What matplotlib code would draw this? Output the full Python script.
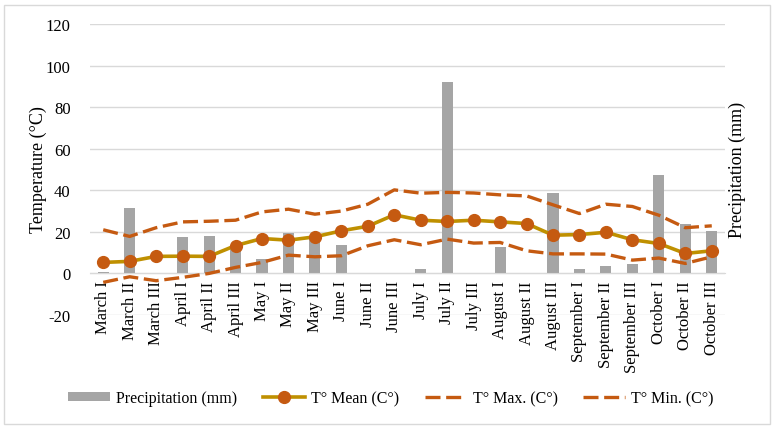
import matplotlib
matplotlib.use("Agg")
import matplotlib.pyplot as plt
from matplotlib.patches import Rectangle
import numpy as np

categories = ["March I", "March II", "March III", "April I", "April II", "April III",
              "May I", "May II", "May III", "June I", "June II", "June III",
              "July I", "July II", "July III", "August I", "August II", "August III",
              "September I", "September II", "September III", "October I", "October II", "October III"]
precip = [0.5, 31.5, 0, 17.3, 18.1, 12.5, 6.9, 19.4, 16.5, 13.9, 0, 0,
          1.9, 92, 0, 12.5, 0, 38.6, 1.9, 3.8, 4.5, 47.5, 23.8, 20.5]
t_mean = [5.3, 5.8, 8.2, 8.3, 8.2, 13.4, 16.8, 16.0, 17.6, 20.5, 22.7, 28.2,
          25.6, 25.0, 25.6, 24.8, 24.0, 18.4, 18.7, 19.8, 16.2, 14.4, 9.6, 10.9]
t_max = [21.0, 17.8, 22.0, 24.8, 25.1, 25.6, 29.6, 30.9, 28.5, 30.0, 33.3, 40.2,
         38.6, 39.0, 38.7, 37.8, 37.3, 33.0, 28.8, 33.3, 32.2, 28.0, 22.0, 22.9]
t_min = [-4.3, -1.6, -3.5, -1.9, 0.0, 2.9, 5.3, 8.8, 8.0, 8.5, 13.3, 16.2,
         13.8, 16.5, 14.6, 14.9, 10.9, 9.4, 9.4, 9.3, 6.4, 7.4, 4.8, 8.0]
yticks = [-20, 0, 20, 40, 60, 80, 100, 120]

plt.rcParams['font.family'] = ['Liberation Serif', 'DejaVu Serif']
FS = 12

fig = plt.figure(figsize=(7.78, 4.31), dpi=100)
ax = fig.add_axes([90/778, 1-316/431, (725-90)/778, (316-25)/431])

x = np.arange(len(categories))
orange = '#C55A11'
h_bar = ax.bar(x, precip, width=0.42, color='#A5A5A5', label='Precipitation (mm)', zorder=2)
h_mean, = ax.plot(x, t_mean, color='#BF9000', lw=2.6, marker='o', ms=8.5, mfc=orange, mec=orange,
                  label='T° Mean (C°)', zorder=4)
h_max, = ax.plot(x, t_max, color=orange, lw=2.4, dashes=(4.5, 1.7), label='T° Max. (C°)', zorder=3)
h_min, = ax.plot(x, t_min, color=orange, lw=2.4, dashes=(4.5, 1.7), label='T° Min. (C°)', zorder=3)

ax.set_xlim(-0.5, len(categories) - 0.5)
ax.set_ylim(-20, 120)
ax.set_yticks(yticks)
ax.set_yticklabels([str(v) for v in yticks], fontsize=FS)
ax.yaxis.grid(True, color='#D9D9D9', lw=1, zorder=0)
ax.set_axisbelow(True)
for s in ['top', 'right', 'left']:
    ax.spines[s].set_visible(False)
ax.spines['bottom'].set_position(('data', 0))
ax.spines['bottom'].set_color('#D9D9D9')
ax.tick_params(axis='y', length=0, pad=14)
ax.tick_params(axis='x', length=0, pad=5)
ax.set_xticks(x)
ax.set_xticklabels(categories, rotation=90, fontsize=FS, va='top', ha='center')

fig.text(38/778, 1 - 170/431, 'Temperature (°C)', rotation=90, fontsize=FS + 1,
         ha='center', va='center')
fig.text(737/778, 1 - 170/431, 'Precipitation (mm)', rotation=90, fontsize=FS + 1,
         ha='center', va='center')

leg = fig.legend(handles=[h_bar, h_mean, h_max, h_min], loc='center',
                 bbox_to_anchor=(391/778, 1 - 399/431), ncol=4, frameon=False,
                 fontsize=11.5, handlelength=2.6, handleheight=0.5,
                 columnspacing=1.6, handletextpad=0.4)

fig.add_artist(Rectangle((4/778, 1 - 425/431), (770-4)/778, (425-6)/431,
                         transform=fig.transFigure, fill=False, edgecolor='#D9D9D9', lw=1))

fig.savefig('out.png', dpi=100)
